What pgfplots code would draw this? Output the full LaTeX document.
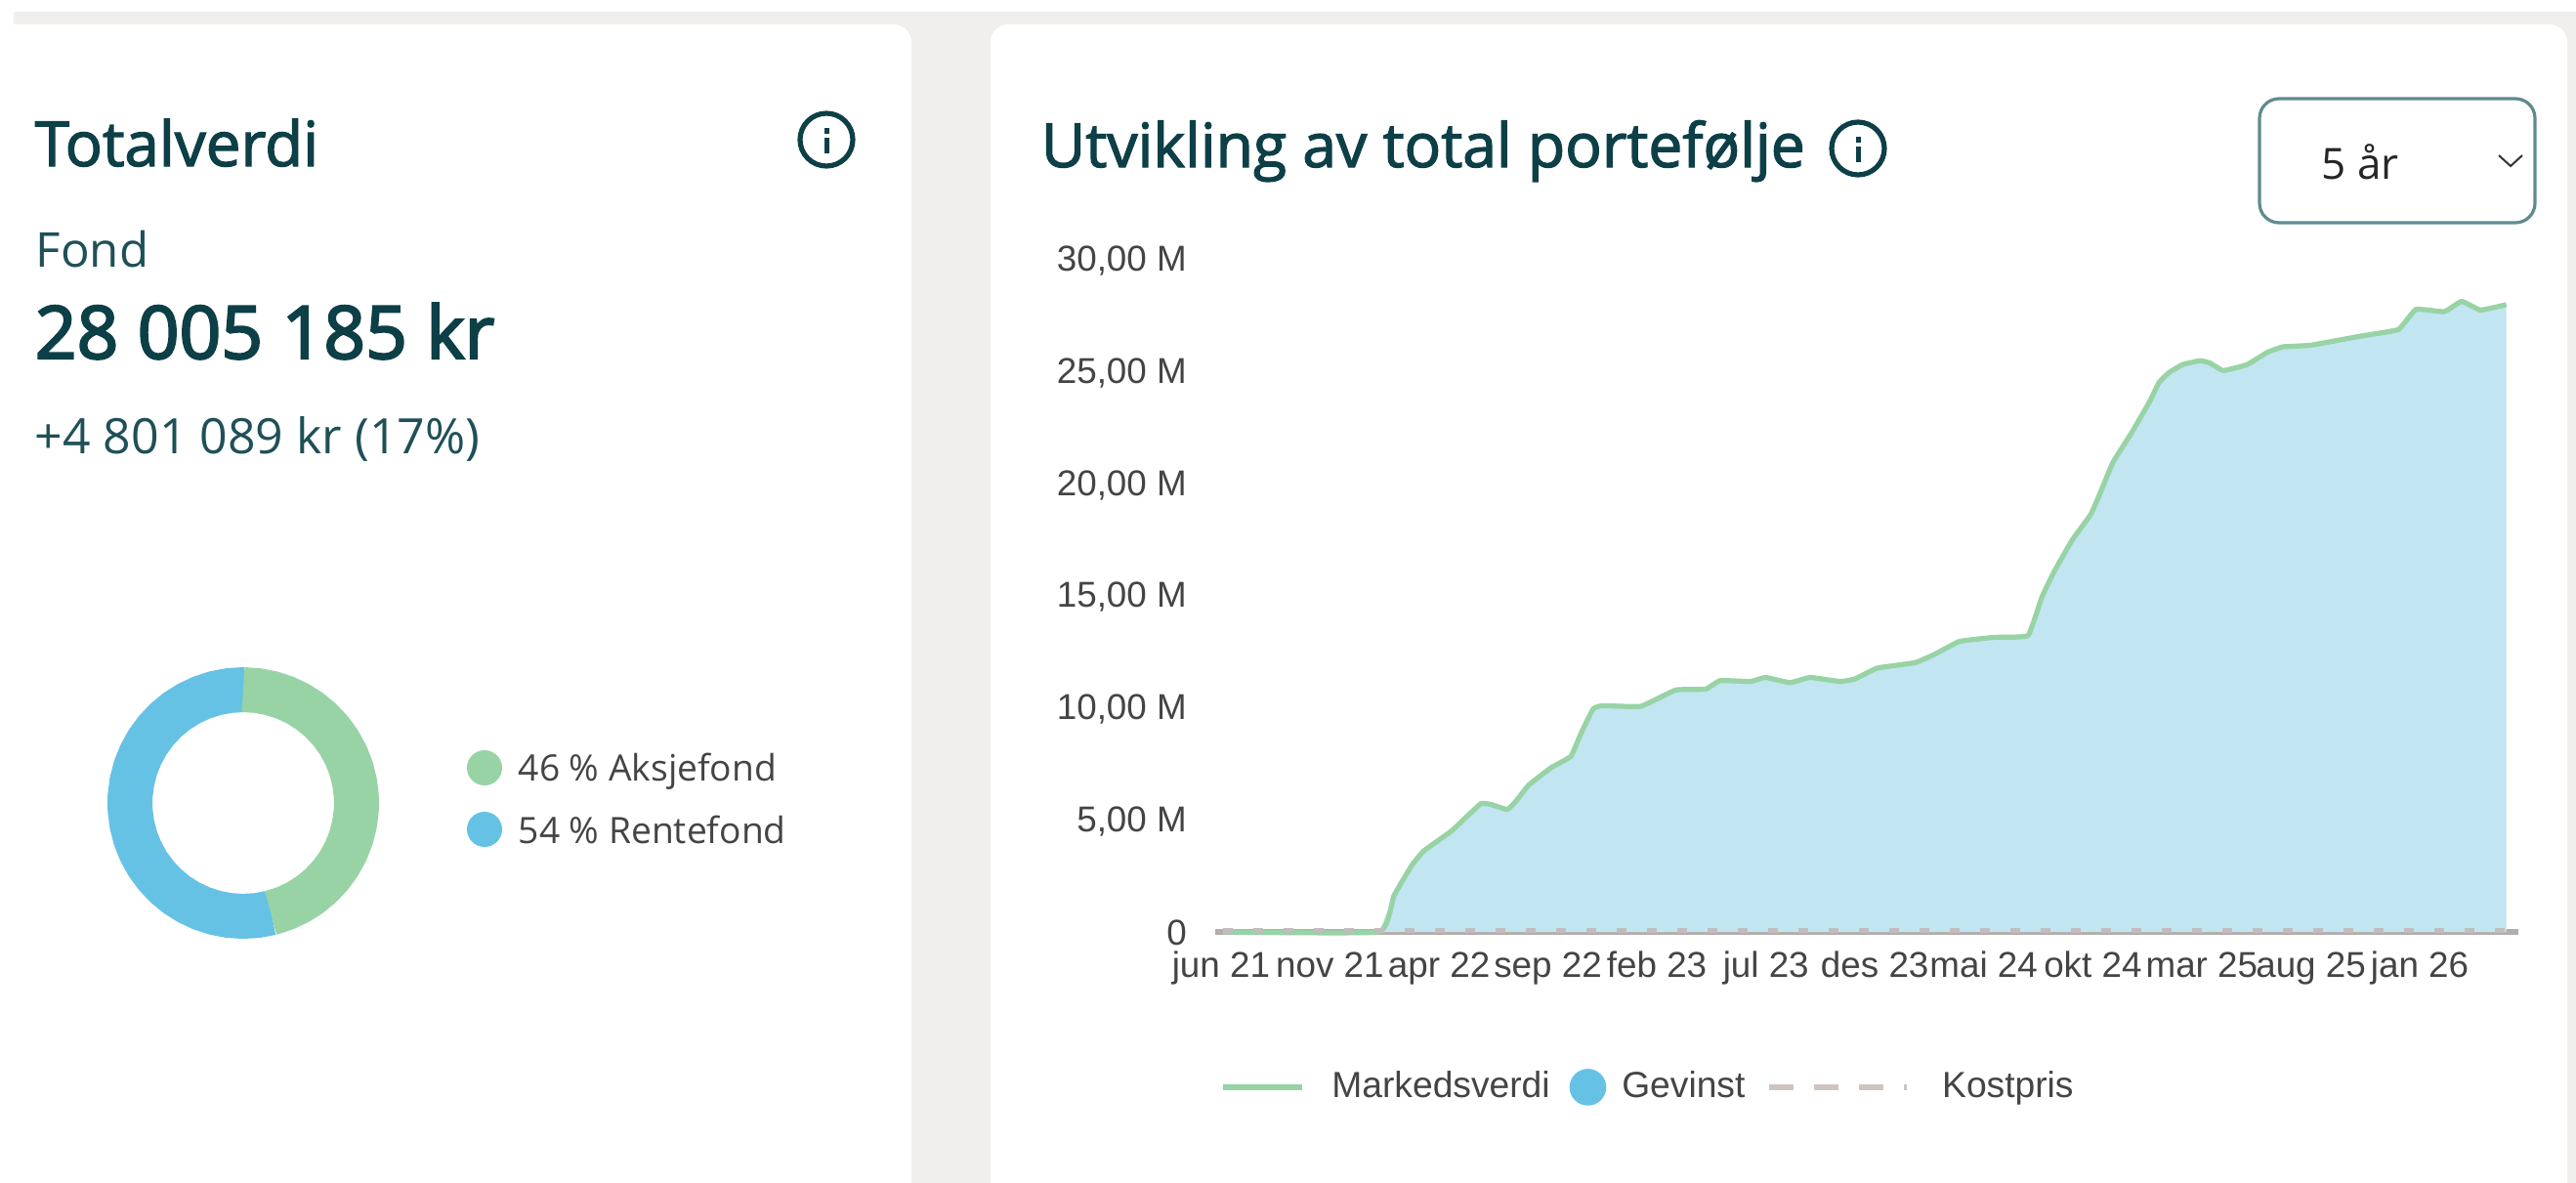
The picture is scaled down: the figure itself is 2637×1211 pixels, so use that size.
\documentclass[border=0pt]{standalone}
\usepackage{pgfplots}
\usepackage{pgfplotstable}
\usepackage{fontspec}
\pgfplotsset{compat=1.18}
\setmainfont{Liberation Sans}
\newfontfamily\os{Open Sans}
\newfontfamily\osm{Open Sans}[FakeBold=2]
\newfontfamily\osb{Open Sans}[FakeBold=3]
\definecolor{pagegray}{HTML}{F0EFED}
\definecolor{teal1}{HTML}{0D3F47}
\definecolor{teal2}{HTML}{1F5058}
\definecolor{boxc}{HTML}{5F8B90}
\definecolor{greenc}{HTML}{98D3A5}
\definecolor{bluec}{HTML}{66C2E5}
\definecolor{fillc}{HTML}{C2E5F2}
\definecolor{kost}{HTML}{D0C4BE}
\definecolor{axisc}{HTML}{B3ADAB}
\definecolor{lab}{HTML}{444444}
\pgfplotstableread{
m v
0.09 0
7.08 0
7.75 1.62
8.54 2.96
9.09 3.62
10.32 4.5
10.99 5.13
11.65 5.73
12.1 5.69
12.83 5.47
13.22 5.84
13.78 6.55
14.79 7.33
15.68 7.84
16.12 8.84
16.68 9.96
17.12 10.1
18.81 10.07
20.38 10.8
21.72 10.84
22.37 11.22
23.73 11.18
24.39 11.36
25.5 11.13
26.4 11.36
27.74 11.18
28.4 11.29
29.42 11.78
31.1 12.02
31.99 12.4
33.1 12.97
34.63 13.15
36.16 13.23
36.78 14.93
37.3 16.02
38.13 17.47
38.97 18.63
39.36 19.5
39.97 20.96
40.8 22.27
41.64 23.72
42.03 24.52
42.47 24.96
43.08 25.32
43.87 25.5
44.31 25.4
44.92 25.06
45.97 25.32
46.89 25.87
47.59 26.12
48.82 26.19
51.09 26.6
52.76 26.89
53.55 27.79
54.82 27.69
55.6 28.15
56.44 27.76
57.6 28.0
}\portfolio
\newcommand{\infoicon}[2]{%
  \draw[teal1,line width=1.3pt] (#1,#2) circle (27);
  \fill[teal1] (#1-2.5,#2-12) rectangle (#1+2.5,#2-6);
  \fill[teal1] (#1-2.5,#2-2) rectangle (#1+2.5,#2+14);
}
\begin{document}
\begin{tikzpicture}
\begin{scope}[x=0.25pt,y=-0.25pt]
  \useasboundingbox (0,0) rectangle (2637,1211);
  \fill[white] (0,0) rectangle (2637,1211);
  \fill[pagegray] (14,12) rectangle (2637,1211);
  \fill[white,rounded corners=4.5pt] (-60,25) rectangle (933,1290);
  \fill[white,rounded corners=4.5pt] (1014,25) rectangle (2628,1290);
  % left card
  \node[anchor=base west,inner sep=0,text=teal1,font=\osm\fontsize{15.9}{20}\selectfont] at (35,170) {Totalverdi};
  \infoicon{846}{143}
  \node[anchor=base west,inner sep=0,text=teal2,font=\os\fontsize{12.3}{15}\selectfont] at (36,273) {Fond};
  \node[anchor=base west,inner sep=0,text=teal1,font=\osb\fontsize{18.7}{24}\selectfont] at (35,367) {28 005 185 kr};
  \node[anchor=base west,inner sep=0,text=teal2,font=\os\fontsize{12.5}{15}\selectfont] at (35,464) {+4 801 089 kr (17\%)};
  \fill[greenc] (496,786) circle (18);
  \fill[bluec] (496,849) circle (18);
  \node[anchor=base west,inner sep=0,text=lab,font=\os\fontsize{9.3}{12}\selectfont] at (530,799) {46 \% Aksjefond};
  \node[anchor=base west,inner sep=0,text=lab,font=\os\fontsize{9.3}{12}\selectfont] at (530,863) {54 \% Rentefond};
  % right card
  \node[anchor=base west,inner sep=0,text=teal1,font=\osm\fontsize{15.6}{20}\selectfont] at (1065,171) {Utvikling av total portefølje};
  \infoicon{1902}{152}
  \draw[boxc,line width=0.8pt,rounded corners=5pt] (2313,101) rectangle (2595,228);
  \node[anchor=base west,inner sep=0,text=black!85,font=\os\fontsize{11}{14}\selectfont] at (2376,183) {5 år};
  \draw[black!80,line width=0.5pt] (2558,159) -- (2570,170) -- (2582,159);
\end{scope}
% donut
\begin{axis}[at={(62.25pt,-205.5pt)},anchor=center,width=69.5pt,height=69.5pt,scale only axis,
  xmin=-139,xmax=139,ymin=-139,ymax=139,hide axis,clip=false]
  \addplot[bluec,line width=11.5pt,data cs=polar,line join=round] coordinates {
   (-75.6,116)(-82.8,116)(-90,116)(-97.2,116)(-104.4,116)(-111.6,116)(-118.8,116)(-126,116)(-133.2,116)(-140.4,116)(-147.6,116)(-154.8,116)(-162,116)(-169.2,116)(-176.4,116)(-183.6,116)(-190.8,116)(-198,116)(-205.2,116)(-212.4,116)(-219.6,116)(-226.8,116)(-234,116)(-241.2,116)(-248.4,116)(-255.6,116)(-262.8,116)(-270,116)(-270.5,116)};
  \addplot[greenc,line width=11.5pt,data cs=polar,line join=round] coordinates {
   (90,116)(82.8,116)(75.6,116)(68.4,116)(61.2,116)(54,116)(46.8,116)(39.6,116)(32.4,116)(25.2,116)(18,116)(10.8,116)(3.6,116)(-3.6,116)(-10.8,116)(-18,116)(-25.2,116)(-32.4,116)(-39.6,116)(-46.8,116)(-54,116)(-61.2,116)(-68.4,116)(-75.6,116)(-75.9,116)};
\end{axis}
% chart
\begin{axis}[at={(311pt,-238.5pt)},anchor=south west,width=333.5pt,height=172pt,scale only axis,
  xmin=-0.26,xmax=58.14,ymin=0,ymax=30,clip=false,
  axis x line=bottom,axis y line=left,
  x axis line style={-,draw=axisc,line width=1.3pt},
  y axis line style={draw=none},
  major tick length=0pt,tick style={draw=none},
  xtick={0,4.88,9.77,14.65,19.53,24.42,29.3,34.18,39.07,43.95,48.84,53.72},
  xticklabels={jun 21,nov 21,apr 22,sep 22,feb 23,jul 23,des 23,mai 24,okt 24,mar 25,aug 25,jan 26},
  ytick={0,5,10,15,20,25,30},
  yticklabels={0,{5,00 M},{10,00 M},{15,00 M},{20,00 M},{25,00 M},{30,00 M}},
  tick label style={font=\fontsize{9.2}{11}\selectfont,text=lab},
  yticklabel style={inner sep=0pt,anchor=east,xshift=-7.1pt,yshift=-0.3pt},
  xticklabel style={inner sep=0pt,anchor=base,yshift=-11.5pt},
  legend cell align=left,
  legend columns=3,
  legend style={at={(axis description cs:0.003,-0.231)},anchor=west,draw=none,fill=none,inner sep=0pt,
    font=\fontsize{9.3}{11}\selectfont,text=lab,nodes={inner sep=0pt},
    /tikz/column 1/.style={column sep=7pt},
    /tikz/column 2/.style={column sep=5pt},
    /tikz/column 3/.style={column sep=4pt},
    /tikz/column 4/.style={column sep=5.5pt},
    /tikz/column 5/.style={column sep=8.3pt}},
]
  \addlegendimage{legend image code/.code={\draw[greenc,line width=1.4pt] (0pt,0pt) -- (20.25pt,0pt);}}
  \addlegendentry{Markedsverdi}
  \addlegendimage{legend image code/.code={\fill[bluec] (4.5pt,0pt) circle (4.5pt);}}
  \addlegendentry{Gevinst}
  \addlegendimage{legend image code/.code={\draw[kost,line width=1.4pt,dash pattern=on 6.25pt off 5.25pt] (0pt,0pt) -- (35.25pt,0pt);}}
  \addlegendentry{Kostpris}
  \addplot[fill=fillc,draw=none,forget plot] table[x=m,y=v] {\portfolio} \closedcycle;
  \addplot[greenc,line width=1.3pt,line join=round,smooth,tension=0.2,forget plot] table[x=m,y=v] {\portfolio};
  \addplot[axisc!80!white,line width=1.2pt,dash pattern=on 2.5pt off 5.25pt,forget plot] coordinates {(0.09,0.08) (57.6,0.08)};
\end{axis}
\end{tikzpicture}
\end{document}
